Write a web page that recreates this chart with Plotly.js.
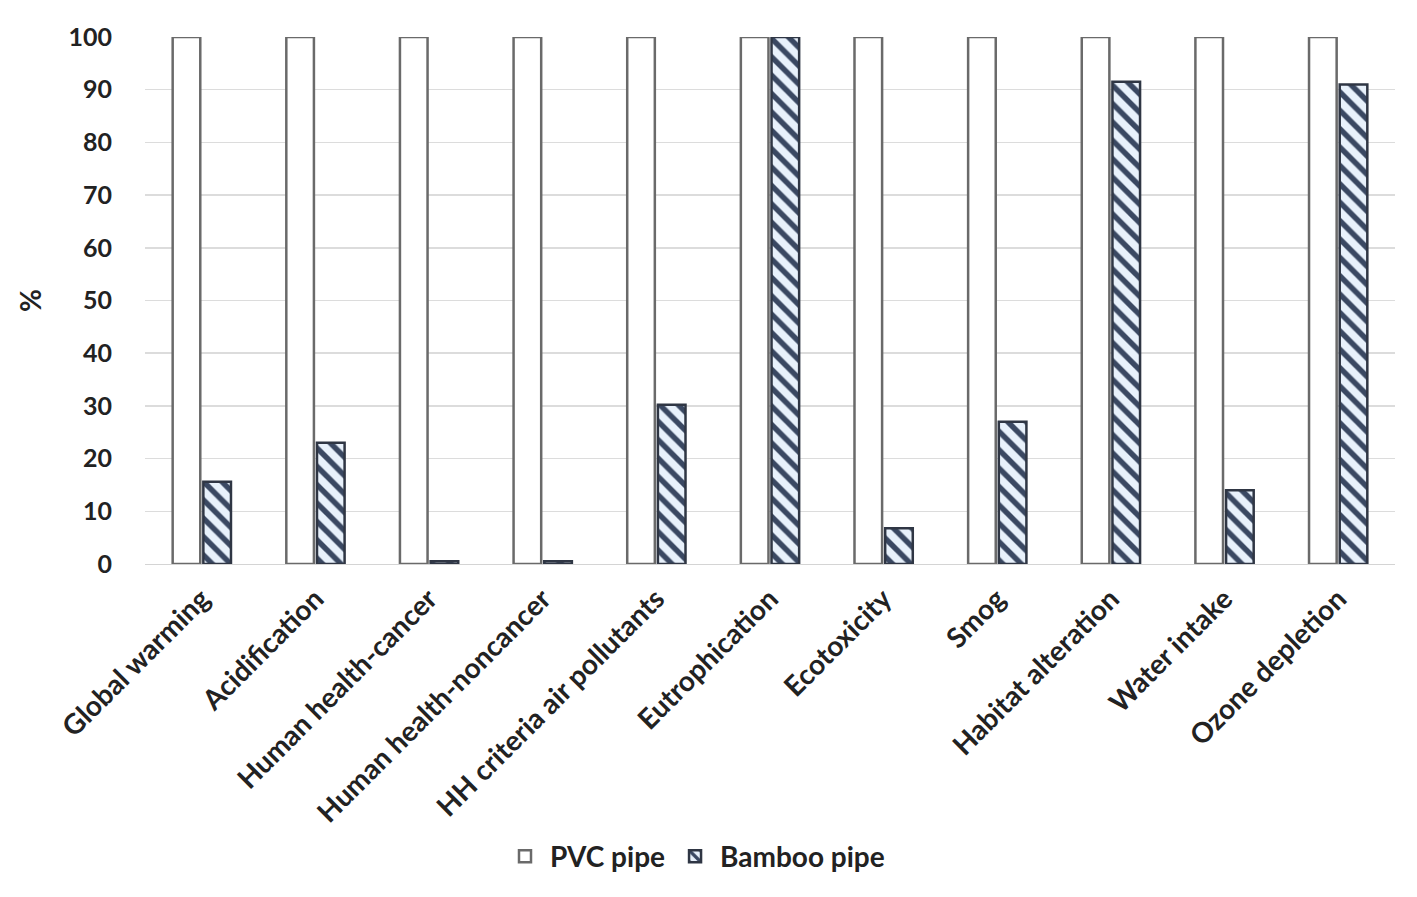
<!DOCTYPE html>
<html>
<head>
<meta charset="utf-8">
<script src="https://cdn.plot.ly/plotly-3.0.1.min.js"></script>
<style>html,body{margin:0;padding:0;background:#fff;}#chart{width:1417px;height:897px;}</style>
</head>
<body>
<div id="chart"></div>
<script>
var categories = ["Global warming","Acidification","Human health-cancer","Human health-noncancer","HH criteria air pollutants","Eutrophication","Ecotoxicity","Smog","Habitat alteration","Water intake","Ozone depletion"];
var pvcValues = [100,100,100,100,100,100,100,100,100,100,100];
var bambooValues = [15.6,23,0.5,0.5,30.2,100,6.8,27,91.5,14,91];
var yTicks = [0,10,20,30,40,50,60,70,80,90,100];

var font = "Lato, 'Open Sans', sans-serif";
var traces = [
  {type:"bar", name:"PVC pipe", x:categories, y:pvcValues,
   marker:{color:"#ffffff", line:{color:"#6a6a6a", width:2.5}}},
  {type:"bar", name:"Bamboo pipe", x:categories, y:bambooValues,
   marker:{color:"#dfeaf6", line:{color:"#2f3644", width:2.5},
     pattern:{shape:"\\", fgcolor:"#3a4862", bgcolor:"#e8f1fb", size:13, solidity:0.42}}}
];
var layout = {
  width:1417, height:897,
  margin:{l:145, r:22, t:37, b:333},
  paper_bgcolor:"#fff", plot_bgcolor:"#fff",
  barmode:"group", bargap:0.46, bargroupgap:0.1,
  font:{family:font, color:"#222"},
  showlegend:true,
  legend:{orientation:"h", x:0.44, xanchor:"center", y:-0.555, yanchor:"middle",
    font:{family:font, size:28, color:"#222", weight:"bold"}, itemwidth:40},
  xaxis:{tickangle:-45, tickfont:{family:font, size:28, color:"#222", weight:"bold"},
    showline:false, showgrid:false, ticks:"", zeroline:false, ticklabelstandoff:12},
  yaxis:{range:[0,100], tickvals:yTicks, ticktext:yTicks.map(String),
    tickfont:{family:font, size:25, color:"#222", weight:"bold"},
    showgrid:true, gridcolor:"#dcdcdc", gridwidth:1.5, zeroline:true, zerolinecolor:"#d4d4d4",
    showline:false, ticks:"", ticklen:0, automargin:false, ticklabelstandoff:32,
    title:{text:"%", font:{family:font, size:28, color:"#222", weight:"bold"}, standoff:18}}
};
Plotly.newPlot("chart", traces, layout, {displayModeBar:false, staticPlot:true});
</script>
</body>
</html>
